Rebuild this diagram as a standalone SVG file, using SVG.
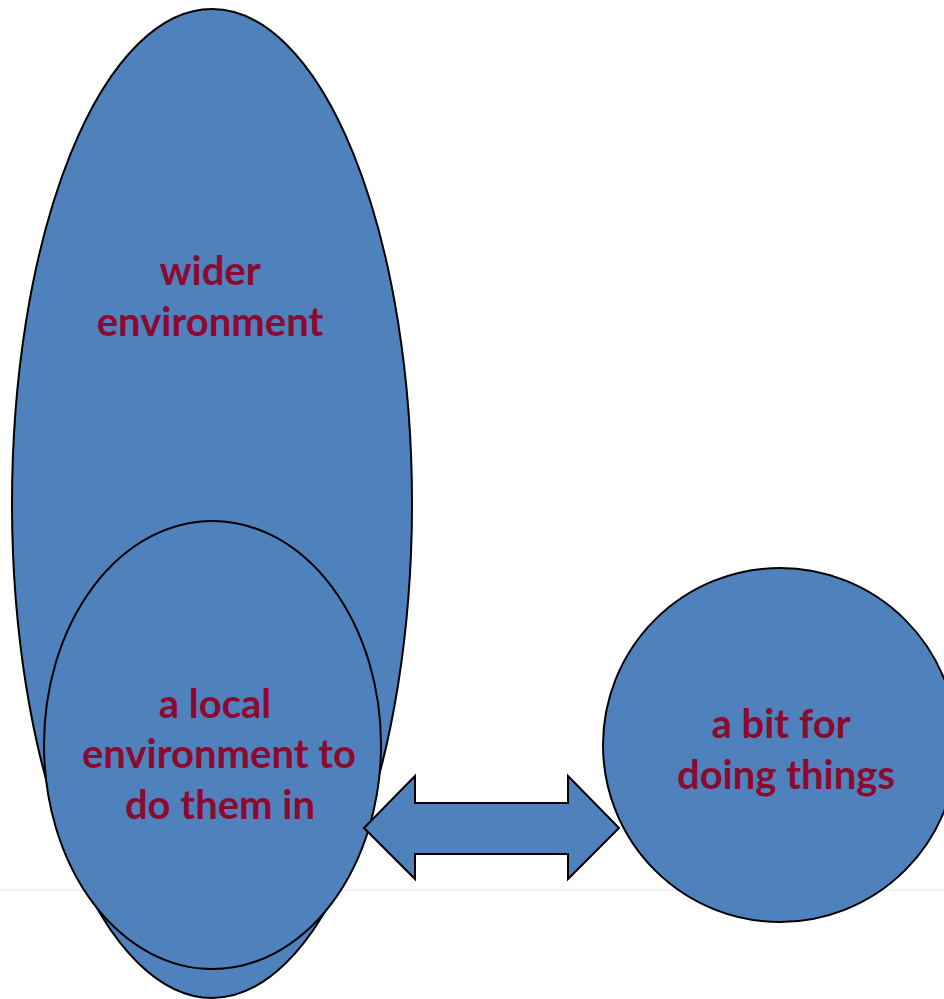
<svg xmlns="http://www.w3.org/2000/svg" width="944" height="999" viewBox="0 0 944 999">
<style>
.shape{fill:#4F81BD;stroke:#000;stroke-width:2}
.lbl{font-family:Lato,"Open Sans","Liberation Sans",sans-serif;font-weight:bold;font-size:40px;fill:#8C0A2F;text-anchor:middle}
</style>
<rect width="944" height="999" fill="#fff"/>
<line x1="0" y1="890" x2="944" y2="890" stroke="#eeeeee" stroke-width="1.5"/>
<g id="wider">
<ellipse class="shape" cx="212" cy="503.5" rx="200" ry="494.5"/>
<text class="lbl" x="210" y="285">wider</text>
<text class="lbl" x="210" y="336">environment</text>
</g>
<g id="local">
<ellipse class="shape" cx="212.5" cy="745" rx="168.5" ry="224"/>
<text class="lbl" x="215" y="718">a local</text>
<text class="lbl" x="219" y="768">environment to</text>
<text class="lbl" x="220" y="819">do them in</text>
</g>
<g id="connectors">
<polygon class="shape" points="364,828 415,776 415,803 568,803 568,776 619,828 568,879 568,854 415,854 415,879"/>
</g>
<g id="doing">
<circle class="shape" cx="780" cy="745" r="177"/>
<text class="lbl" x="781" y="738">a bit for</text>
<text class="lbl" x="786" y="789">doing things</text>
</g>
</svg>
